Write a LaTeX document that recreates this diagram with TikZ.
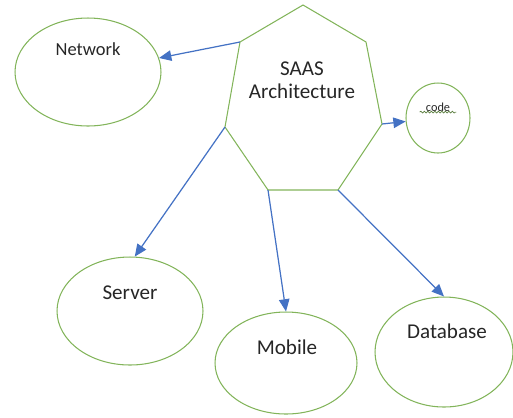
\documentclass[tikz,border=0pt]{standalone}
\usepackage{fontspec}
\setmainfont{Carlito}
\usetikzlibrary{shapes.geometric,arrows.meta,decorations.pathmorphing}

\definecolor{shapegreen}{RGB}{130,180,90}
\definecolor{arrowblue}{RGB}{68,114,196}

\tikzset{
    bubble/.style={ellipse, draw=shapegreen, line width=0.6pt, inner sep=0pt},
    arr/.style={draw=arrowblue, line width=0.7pt, -{Triangle[length=7pt,width=6pt]}},
    lbl/.style={font=\fontsize{12}{14}\selectfont, text=black!85}
}

\begin{document}
\begin{tikzpicture}[x=0.02cm,y=-0.02cm]
        \useasboundingbox (0,0) rectangle (513,417);

        % the seven corners of the centre shape
        \coordinate (h1) at (303,5);
        \coordinate (h2) at (366,42);
        \coordinate (h3) at (382,124);
        \coordinate (h4) at (338,190);
        \coordinate (h5) at (268,190);
        \coordinate (h6) at (225,127);
        \coordinate (h7) at (240,42);
        \draw[shapegreen, line width=0.6pt] (h1) -- (h2) -- (h3) -- (h4) -- (h5) -- (h6) -- (h7) -- cycle;
        \node[lbl, align=center] (saas) at (302,80) {SAAS\\[-1pt]Architecture};

        \node[bubble, minimum width=2.92cm, minimum height=2.16cm] (net) at (88,72) {};
        \node[bubble, minimum width=1.28cm, minimum height=1.4cm] (cd) at (438,118) {};
        \node[bubble, minimum width=2.92cm, minimum height=2.16cm] (srv) at (130,311) {};
        \node[bubble, minimum width=2.84cm, minimum height=2.04cm] (mob) at (286,363) {};
        \node[bubble, minimum width=2.76cm, minimum height=2.2cm] (db) at (444,352) {};

        \node[lbl, font=\fontsize{10.5}{12}\selectfont] (netlbl) at (88,49) {Network};
        \node[lbl, font=\fontsize{7}{8}\selectfont] (cdlbl) at (438,107) {code};
        \draw[shapegreen!70!black, line width=0.4pt, decorate,
              decoration={snake, amplitude=0.5pt, segment length=2pt}]
            ([yshift=-0.5pt]cdlbl.base west) -- ([yshift=-0.5pt]cdlbl.base east);
        \node[lbl] (srvlbl) at (130,293) {Server};
        \node[lbl] (moblbl) at (287,347) {Mobile};
        \node[lbl] (dblbl) at (447,331) {Database};

        \draw[arr] (h7) -- (net);
        \draw[arr] (h3) -- (cd);
        \draw[arr] (h6) -- (srv.85);
        \draw[arr] (h5) -- (mob.north);
        \draw[arr] (h4) -- (db.north);
    \end{tikzpicture}
\end{document}
